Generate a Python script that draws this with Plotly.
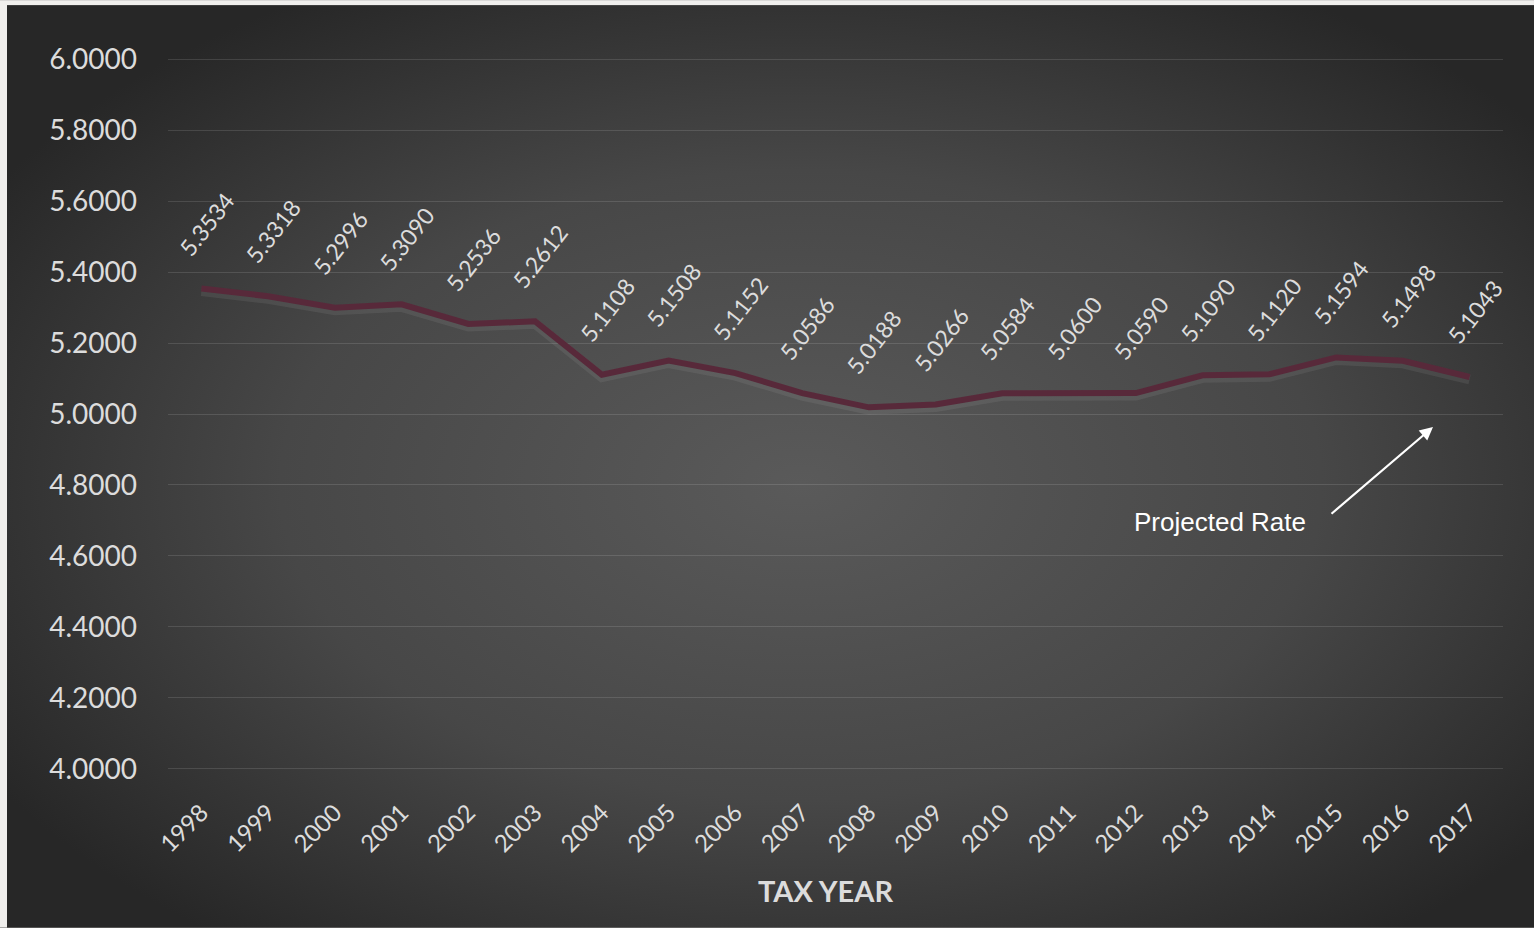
import base64
import plotly.graph_objects as go

years = [str(y) for y in range(1998, 2018)]
rates = [5.3534, 5.3318, 5.2996, 5.3090, 5.2536, 5.2612, 5.1108, 5.1508, 5.1152, 5.0586,
         5.0188, 5.0266, 5.0584, 5.0600, 5.0590, 5.1090, 5.1120, 5.1594, 5.1498, 5.1043]
y_ticks = [4.0, 4.2, 4.4, 4.6, 4.8, 5.0, 5.2, 5.4, 5.6, 5.8, 6.0]

W, H = 1534, 928
PXU = 355.0            # pixels per y unit
PAD = 0.02
y_lo, y_hi = 4.0 - PAD, 6.0 + PAD
L, R = 168, 31
T = 59 - PAD * PXU
B = H - (769 + PAD * PXU)
pw, ph = W - L - R, H - T - B

def px_to_paper(px, py):
    return (px - L) / pw, (H - B - py) / ph

svg = f'''<svg xmlns="http://www.w3.org/2000/svg" width="{W}" height="{H}" viewBox="0 0 {W} {H}">
<defs><radialGradient id="g" cx="52%" cy="52%" r="62%">
<stop offset="0%" stop-color="#5a5a5a"/><stop offset="55%" stop-color="#474747"/>
<stop offset="100%" stop-color="#272727"/></radialGradient></defs>
<rect x="0" y="0" width="{W}" height="{H}" fill="#f0efed"/>
<rect x="7" y="5" width="{W-7}" height="{H-5}" fill="url(#g)"/>
</svg>'''
src = "data:image/svg+xml;base64," + base64.b64encode(svg.encode()).decode()

fig = go.Figure()
shadow_off = 2.5 / PXU
fig.add_trace(go.Scatter(x=years, y=[v - shadow_off for v in rates], mode="lines",
                         line=dict(color="rgba(200,200,200,0.10)", width=10),
                         hoverinfo="skip", showlegend=False))
fig.add_trace(go.Scatter(x=years, y=rates, mode="lines",
                         line=dict(color="#58293a", width=6), showlegend=False))

txt_col = "#dcdcdc"
font_main = "Lato, 'Open Sans', sans-serif"
annots = []
for i, v in enumerate(rates):
    annots.append(dict(x=i, y=v, xref="x", yref="y", text=f"{v:.4f}", showarrow=False,
                       textangle=-52, xanchor="center", yanchor="middle",
                       xshift=5, yshift=65,
                       font=dict(family=font_main, size=23, color=txt_col)))

px, py = px_to_paper(1220, 522)
annots.append(dict(x=px, y=py, xref="paper", yref="paper",
                   text="Projected Rate", showarrow=False, xanchor="center", yanchor="middle",
                   font=dict(family="Arial, 'Liberation Sans', sans-serif", size=26, color="white")))
px, py = px_to_paper(1433, 427)
annots.append(dict(x=px, y=py, xref="paper", yref="paper",
                   text="", showarrow=True, ax=-103, ay=88, arrowcolor="white",
                   arrowwidth=2.2, arrowhead=2, arrowsize=1.2, standoff=0, startstandoff=0))
px, py = px_to_paper(825, 891)
annots.append(dict(x=px, y=py, xref="paper", yref="paper",
                   text="<b>TAX YEAR</b>", showarrow=False, xanchor="center", yanchor="middle",
                   font=dict(family=font_main, size=29, color=txt_col)))

fig.update_layout(
    width=W, height=H,
    margin=dict(l=L, r=R, t=T, b=B, pad=0),
    paper_bgcolor="#2a2a2a", plot_bgcolor="rgba(0,0,0,0)",
    images=[dict(source=src, xref="paper", yref="paper",
                 x=-L / pw, y=1 + T / ph, sizex=W / pw, sizey=H / ph,
                 xanchor="left", yanchor="top", sizing="stretch", layer="below")],
    annotations=annots,
    xaxis=dict(type="category", range=[-0.5, len(years) - 0.5], showgrid=False,
               zeroline=False, showline=False,
               tickangle=-45, ticks="", ticklabelstandoff=17,
               tickfont=dict(family=font_main, size=24, color=txt_col)),
    yaxis=dict(range=[y_lo, y_hi], tickvals=y_ticks, ticktext=[f"{t:.4f}" for t in y_ticks],
               showgrid=True, gridcolor="rgba(255,255,255,0.12)", gridwidth=1.3,
               zeroline=False, showline=False, ticks="", ticklabelstandoff=30,
               tickfont=dict(family=font_main, size=28, color=txt_col)),
    font=dict(family=font_main, color=txt_col),
)
fig.write_html("out.html")
